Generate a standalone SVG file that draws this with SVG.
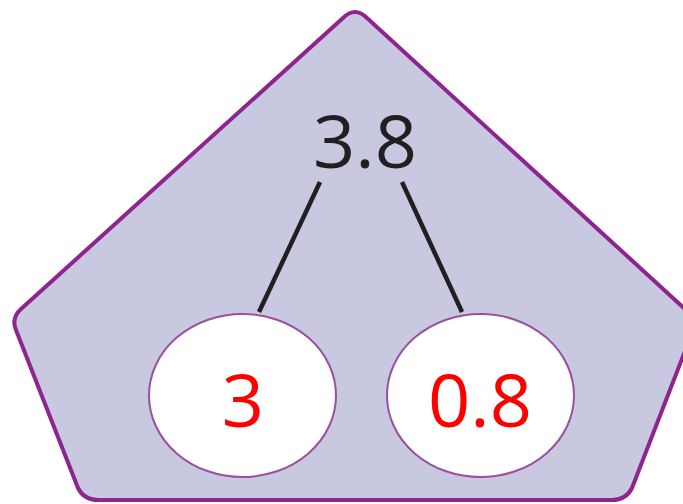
<svg xmlns="http://www.w3.org/2000/svg" width="683" height="504" viewBox="0 0 683 504">
<style>
.pent{fill:#c8c8e0;stroke:#8e248e;stroke-width:4;stroke-linejoin:round}
.ell{fill:#ffffff;stroke:#9b4fa0;stroke-width:2}
.conn{stroke:#231f20;stroke-width:4.5;fill:none}
.t{font-family:"Open Sans","Noto Sans",sans-serif;font-size:74px;text-anchor:middle}
</style>
<path class="pent" d="M343,18 Q355,6 367,18 L697,320 L632,488 Q626,500 612,500 L98,500 Q84,500 78,488 L16,330 Q11,318 21,309 Z"/>
<g id="root"><text class="t" x="365" y="168" fill="#231f20">3.8</text></g>
<g id="connectors">
<line class="conn" x1="320" y1="182" x2="259" y2="312"/>
<line class="conn" x1="402" y1="182" x2="462" y2="312"/>
</g>
<g id="left"><ellipse class="ell" cx="242.5" cy="395.5" rx="93.5" ry="81.5"/><text class="t" x="243" y="427" fill="#ff0000">3</text></g>
<g id="right"><ellipse class="ell" cx="480.5" cy="395.5" rx="93.5" ry="81.5"/><text class="t" x="480" y="427" fill="#ff0000">0.8</text></g>
</svg>
